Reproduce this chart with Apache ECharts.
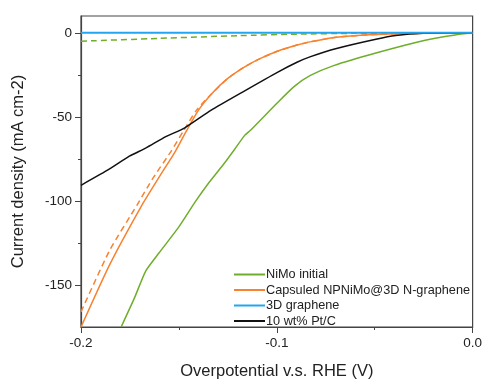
<!DOCTYPE html>
<html>
<head>
<meta charset="utf-8">
<script src="https://cdn.jsdelivr.net/npm/echarts@6/dist/echarts.min.js"></script>
<style>
  html, body { margin: 0; padding: 0; background: #fff; }
  #chart { width: 485px; height: 385px; }
</style>
</head>
<body>
<div id="chart"></div>
<script>
// Polarization curves (x: overpotential V, y: current density mA cm-2)
const nimoX = [-0.1795, -0.1728, -0.1669, -0.1602, -0.1501, -0.1417, -0.135, -0.1266, -0.1216, -0.1164, -0.1133, -0.0997, -0.0912, -0.0831, -0.071, -0.0494, -0.0242, -0.009, 0];
const nimoY = [-175, -158, -141.6, -131, -115.6, -100.6, -89.6, -77.3, -69.4, -61, -57.8, -41.6, -32, -25.5, -19.5, -12, -4.4, -1.3, 0];

const nimoDashX = [-0.2, -0.16, -0.12, -0.09, -0.06, 0];
const nimoDashY = [-5, -3.3, -1.7, -0.8, -0.3, 0];

const capsX = [-0.2, -0.1854, -0.1688, -0.1602, -0.1518, -0.1467, -0.14, -0.1335, -0.1249, -0.1164, -0.1083, -0.0997, -0.0897, -0.0831, -0.0695, -0.0494, -0.025, 0];
const capsY = [-175, -138, -102.3, -86, -70.5, -59.5, -46, -36.5, -27, -20.2, -15.2, -11, -7.3, -5.4, -2.6, -1, -0.3, 0];

const capsDashX = [-0.2, -0.1854, -0.1713, -0.163, -0.154, -0.148, -0.141, -0.1335, -0.1249, -0.1164, -0.1083, -0.0997, -0.0897, -0.0831, -0.0695, -0.0494, -0.025, 0];
const capsDashY = [-166, -129.5, -102.3, -86, -70.5, -59, -46, -36.5, -27, -20.2, -15.2, -11, -7.3, -5.4, -2.6, -1, -0.3, 0];

const grapheneX = [-0.2, 0];
const grapheneY = [0, 0];

const ptcX = [-0.2, -0.1854, -0.1753, -0.167, -0.1567, -0.147, -0.1335, -0.1164, -0.0997, -0.0897, -0.0831, -0.0695, -0.0494, -0.0393, -0.025, 0];
const ptcY = [-90.7, -81, -73.4, -68.6, -61.8, -56.5, -46, -34.5, -23.5, -17.5, -14.3, -9.3, -3.8, -1.6, -0.3, 0];

const legendNames = ["NiMo initial", "Capsuled NPNiMo@3D N-graphene", "3D graphene", "10 wt% Pt/C"];
const xMajorTicks = [-0.2, -0.1, 0];
const xMinorTicks = [-0.15, -0.05];
const yMajorTicks = [-150, -100, -50, 0];
const yMinorTicks = [-125, -75, -25];

const GREEN = "#6fae2c";
const ORANGE = "#f7822f";
const BLUE = "#23a6ef";
const BLACK = "#111111";
const AXIS = "#444";
const FONT = "Liberation Sans, Arial, sans-serif";

const zip = (xs, ys) => xs.map((x, i) => [x, ys[i]]);

const makeLine = (name, xs, ys, color, dashed, width = 1.5) => ({
  name,
  type: "line",
  symbol: "none",
  smooth: 0.2,
  silent: true,
  lineStyle: { color, width, type: dashed ? [6, 4] : "solid" },
  itemStyle: { color },
  data: zip(xs, ys),
});

const chart = echarts.init(document.getElementById("chart"), null, { renderer: "canvas" });

const axisLine = { show: true, onZero: false, lineStyle: { color: AXIS, width: 1.2 } };

chart.setOption({
  animation: false,
  backgroundColor: "#fff",
  textStyle: { fontFamily: FONT },
  grid: {
    left: 81, right: 7, top: 16, bottom: 49,
    show: true, borderColor: AXIS, borderWidth: 1.2, backgroundColor: "transparent",
  },
  legend: {
    data: legendNames,
    orient: "vertical",
    left: 229,
    top: 263,
    icon: "rect",
    itemWidth: 31,
    itemHeight: 2,
    itemGap: 2.5,
    selectedMode: false,
    textStyle: { fontSize: 12.7, color: "#222", fontFamily: FONT, padding: [0, 0, 0, -4] },
  },
  xAxis: [
    {
      type: "value",
      min: -0.2, max: 0,
      splitLine: { show: false },
      axisLine,
      name: "Overpotential v.s. RHE (V)",
      nameLocation: "middle",
      nameGap: 36,
      nameTextStyle: { fontSize: 16.5, color: "#222" },
      axisTick: { customValues: xMajorTicks, length: 6, lineStyle: { color: AXIS } },
      axisLabel: {
        customValues: xMajorTicks, fontSize: 13.5, color: "#222", margin: 9,
        formatter: (v) => v.toFixed(1),
      },
    },
    {
      type: "value",
      min: -0.2, max: 0,
      position: "bottom",
      splitLine: { show: false },
      axisLine: { show: false, onZero: false },
      axisTick: { customValues: xMinorTicks, length: 3, lineStyle: { color: AXIS } },
      axisLabel: { show: false },
    },
  ],
  yAxis: [
    {
      type: "value",
      min: -175, max: 10,
      splitLine: { show: false },
      axisLine,
      name: "Current density (mA cm-2)",
      nameLocation: "middle",
      nameGap: 54,
      nameTextStyle: { fontSize: 16.5, color: "#222" },
      axisTick: { customValues: yMajorTicks, length: 6, lineStyle: { color: AXIS } },
      axisLabel: { customValues: yMajorTicks, fontSize: 13.5, color: "#222", margin: 9 },
    },
    {
      type: "value",
      min: -175, max: 10,
      position: "left",
      splitLine: { show: false },
      axisLine: { show: false, onZero: false },
      axisTick: { customValues: yMinorTicks, length: 3, lineStyle: { color: AXIS } },
      axisLabel: { show: false },
    },
  ],
  series: [
    makeLine("NiMo initial dashed", nimoDashX, nimoDashY, GREEN, true),
    makeLine("Capsuled dashed", capsDashX, capsDashY, ORANGE, true),
    makeLine("NiMo initial", nimoX, nimoY, GREEN, false),
    makeLine("Capsuled NPNiMo@3D N-graphene", capsX, capsY, ORANGE, false),
    makeLine("10 wt% Pt/C", ptcX, ptcY, BLACK, false),
    makeLine("3D graphene", grapheneX, grapheneY, BLUE, false, 2),
  ],
});
</script>
</body>
</html>
